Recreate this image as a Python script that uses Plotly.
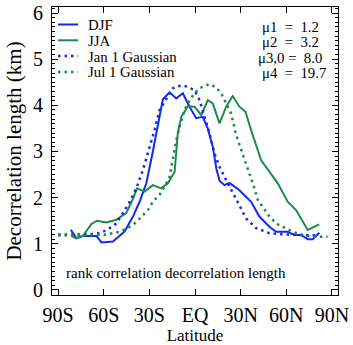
import plotly.graph_objects as go

# ---- data ----
djf_lat = [-81.6, -77.9, -73.6, -64.8, -61.5, -53.9, -46.2, -40.8, -36.4, -32.0, -27.7, -25.4,
           -21.1, -16.7, -12.3, -8.0, -3.6, 0.8, 5.1, 8.4, 11.7, 14.1, 16.2, 19.4, 22.7, 29.2,
           36.9, 42.3, 48.9, 53.3, 60.9, 65.3, 69.7, 74.1, 77.4, 81.7]
djf_val = [1.30, 1.12, 1.17, 1.17, 1.03, 1.05, 1.27, 1.59, 1.91, 2.31, 3.00, 3.40,
           4.13, 4.28, 4.15, 4.26, 3.97, 3.72, 3.75, 3.50, 3.10, 2.62, 2.36, 2.27, 2.32, 2.16,
           1.91, 1.59, 1.37, 1.26, 1.26, 1.19, 1.19, 1.10, 1.10, 1.24]

jja_lat = [-81.2, -78.4, -73.6, -68.1, -64.4, -58.2, -51.7, -45.1, -40.7, -38.1, -33.1, -27.7,
           -22.2, -17.8, -13.4, -11.3, -9.0, -4.7, -0.3, 4.1, 8.4, 11.7, 16.1, 20.5, 24.8, 29.2,
           33.2, 36.9, 43.5, 48.9, 54.4, 60.9, 66.4, 74.1, 81.7]
jja_val = [1.17, 1.12, 1.17, 1.43, 1.50, 1.46, 1.52, 1.67, 1.98, 2.20, 2.13, 2.27,
           2.20, 2.31, 2.56, 3.40, 3.75, 3.98, 3.97, 3.79, 4.11, 4.04, 3.61, 3.97, 4.20, 3.97,
           3.86, 3.46, 2.81, 2.55, 2.31, 1.91, 1.73, 1.30, 1.42]

jan_lat = [-90, -80, -70, -61.5, -56.1, -51.7, -46.2, -43.4, -38.6, -36.4, -34.2, -29.8, -26.6,
           -23.3, -18.9, -14.5, -11.3, -6.9, -0.3, 3.0, 6.3, 9.5, 12.8, 16.1, 19.4, 23.8, 28.1,
           33.6, 40.2, 48.9, 60, 70, 80]
jan_val = [1.20, 1.20, 1.20, 1.24, 1.34, 1.44, 1.72, 1.88, 2.20, 2.38, 2.60, 3.10, 3.46,
           3.90, 4.15, 4.37, 4.42, 4.42, 4.33, 4.11, 3.75, 3.39, 2.96, 2.67, 2.45, 2.16, 1.88,
           1.55, 1.34, 1.23, 1.20, 1.19, 1.18]

jul_lat = [-90, -80, -70, -60, -49.6, -44.1, -39.7, -35.3, -30.9, -27.7, -23.3, -20.0, -16.7,
           -14.5, -12.3, -10.1, -6.9, -3.6, -0.3, 3.0, 9.5, 13.9, 17.2, 20.5, 23.8, 27.1, 30.4,
           33.6, 36.9, 39.1, 41.3, 45.6, 48.9, 53.3, 58.8, 64.2, 70.8, 77.4, 87.2]
jul_val = [1.18, 1.18, 1.18, 1.19, 1.26, 1.34, 1.44, 1.59, 1.73, 1.91, 2.06, 2.24, 2.45,
           2.85, 3.25, 3.53, 3.90, 4.11, 4.26, 4.37, 4.46, 4.39, 4.26, 4.04, 3.82, 3.35, 3.03,
           2.74, 2.45, 2.20, 1.95, 1.73, 1.59, 1.44, 1.34, 1.26, 1.19, 1.15, 1.15]

x_tickvals = [-90, -60, -30, 0, 30, 60, 90]
x_ticktext = ["90S", "60S", "30S", "EQ", "30N", "60N", "90N"]
y_tickvals = [0, 1, 2, 3, 4, 5, 6]

legend_names = ["DJF", "JJA", "Jan 1 Gaussian", "Jul 1 Gaussian"]
mu_labels = ["\u03bc1  =  1.2", "\u03bc2  =  3.2", "\u03bc3,0 =  8.0", "\u03bc4  =  19.7"]

# ---- styling ----
BLUE = "#1428f0"
GREEN = "#1e8a4a"
FONT = "Liberation Serif"
W, H = 353, 345
L, R, T, B = 52, 15, 7, 50
PW, PH = W - L - R, H - T - B


def px_x(p):
    return (p - L) / PW


def px_y(p):
    return 1 - (p - T) / PH


series = [
    (djf_lat, djf_val, BLUE, "solid"),
    (jja_lat, jja_val, GREEN, "solid"),
    (jan_lat, jan_val, BLUE, "2.5px,4px"),
    (jul_lat, jul_val, GREEN, "2.5px,4px"),
]

fig = go.Figure()
for (xs, ys, col, dash), name in zip(series, legend_names):
    fig.add_trace(go.Scatter(x=xs, y=ys, mode="lines", name=name, showlegend=False,
                             hoverinfo="skip",
                             line=dict(color=col, width=2 if dash == "solid" else 2.5, dash=dash)))

shapes = []
annotations = []
# manual legend
for i, ((xs, ys, col, dash), name) in enumerate(zip(series, legend_names)):
    yy = 24.5 + i * 15.8
    shapes.append(dict(type="line", xref="paper", yref="paper",
                       x0=px_x(58), x1=px_x(78), y0=px_y(yy), y1=px_y(yy),
                       line=dict(color=col, width=2 if dash == "solid" else 2.5, dash=dash)))
    annotations.append(dict(xref="paper", yref="paper", x=px_x(86), y=px_y(yy + 0.5), text=name,
                            showarrow=False, xanchor="left", yanchor="middle",
                            font=dict(family=FONT, size=14.8, color="black")))

mu_x = [260, 260, 256, 260]
for i, t in enumerate(mu_labels):
    yy = 26.5 + i * 15.5
    annotations.append(dict(xref="paper", yref="paper", x=px_x(mu_x[i]), y=px_y(yy), text=t,
                            showarrow=False, xanchor="left", yanchor="middle",
                            font=dict(family=FONT, size=14.8, color="black")))

annotations.append(dict(xref="paper", yref="paper", x=px_x(64), y=px_y(273),
                        text="rank correlation decorrelation length", showarrow=False,
                        xanchor="left", yanchor="middle",
                        font=dict(family=FONT, size=15, color="black")))

fig.update_layout(
    width=W, height=H,
    margin=dict(l=L, r=R, t=T, b=B, pad=0),
    paper_bgcolor="white", plot_bgcolor="white",
    font=dict(family=FONT, color="black"),
    shapes=shapes, annotations=annotations,
    showlegend=False, hovermode=False,
)
fig.update_xaxes(range=[-94, 94], tickvals=x_tickvals, ticktext=x_ticktext, automargin=False,
                 ticks="inside", ticklen=6, tickwidth=1, tickcolor="black",
                 showline=True, linecolor="black", linewidth=1, mirror="ticks",
                 showgrid=False, zeroline=False,
                 tickfont=dict(family=FONT, size=20), ticklabelstandoff=2,
                 title=dict(text="Latitude", font=dict(family=FONT, size=17), standoff=2))
fig.update_yaxes(range=[-0.11, 6.13], tickvals=y_tickvals, automargin=False,
                 ticks="inside", ticklen=6, tickwidth=1, tickcolor="black",
                 showline=True, linecolor="black", linewidth=1, mirror="ticks",
                 showgrid=False, zeroline=False,
                 minor=dict(dtick=0.1, ticks="inside", ticklen=3, tickcolor="black", showgrid=False),
                 tickfont=dict(family=FONT, size=20), ticklabelstandoff=4,
                 title=dict(text="Decorrelation length (km)", font=dict(family=FONT, size=21), standoff=5))

fig.write_html("out.html", config={"displayModeBar": False, "staticPlot": True},
               post_script="document.body.style.margin='0';document.body.style.overflow='hidden';")
